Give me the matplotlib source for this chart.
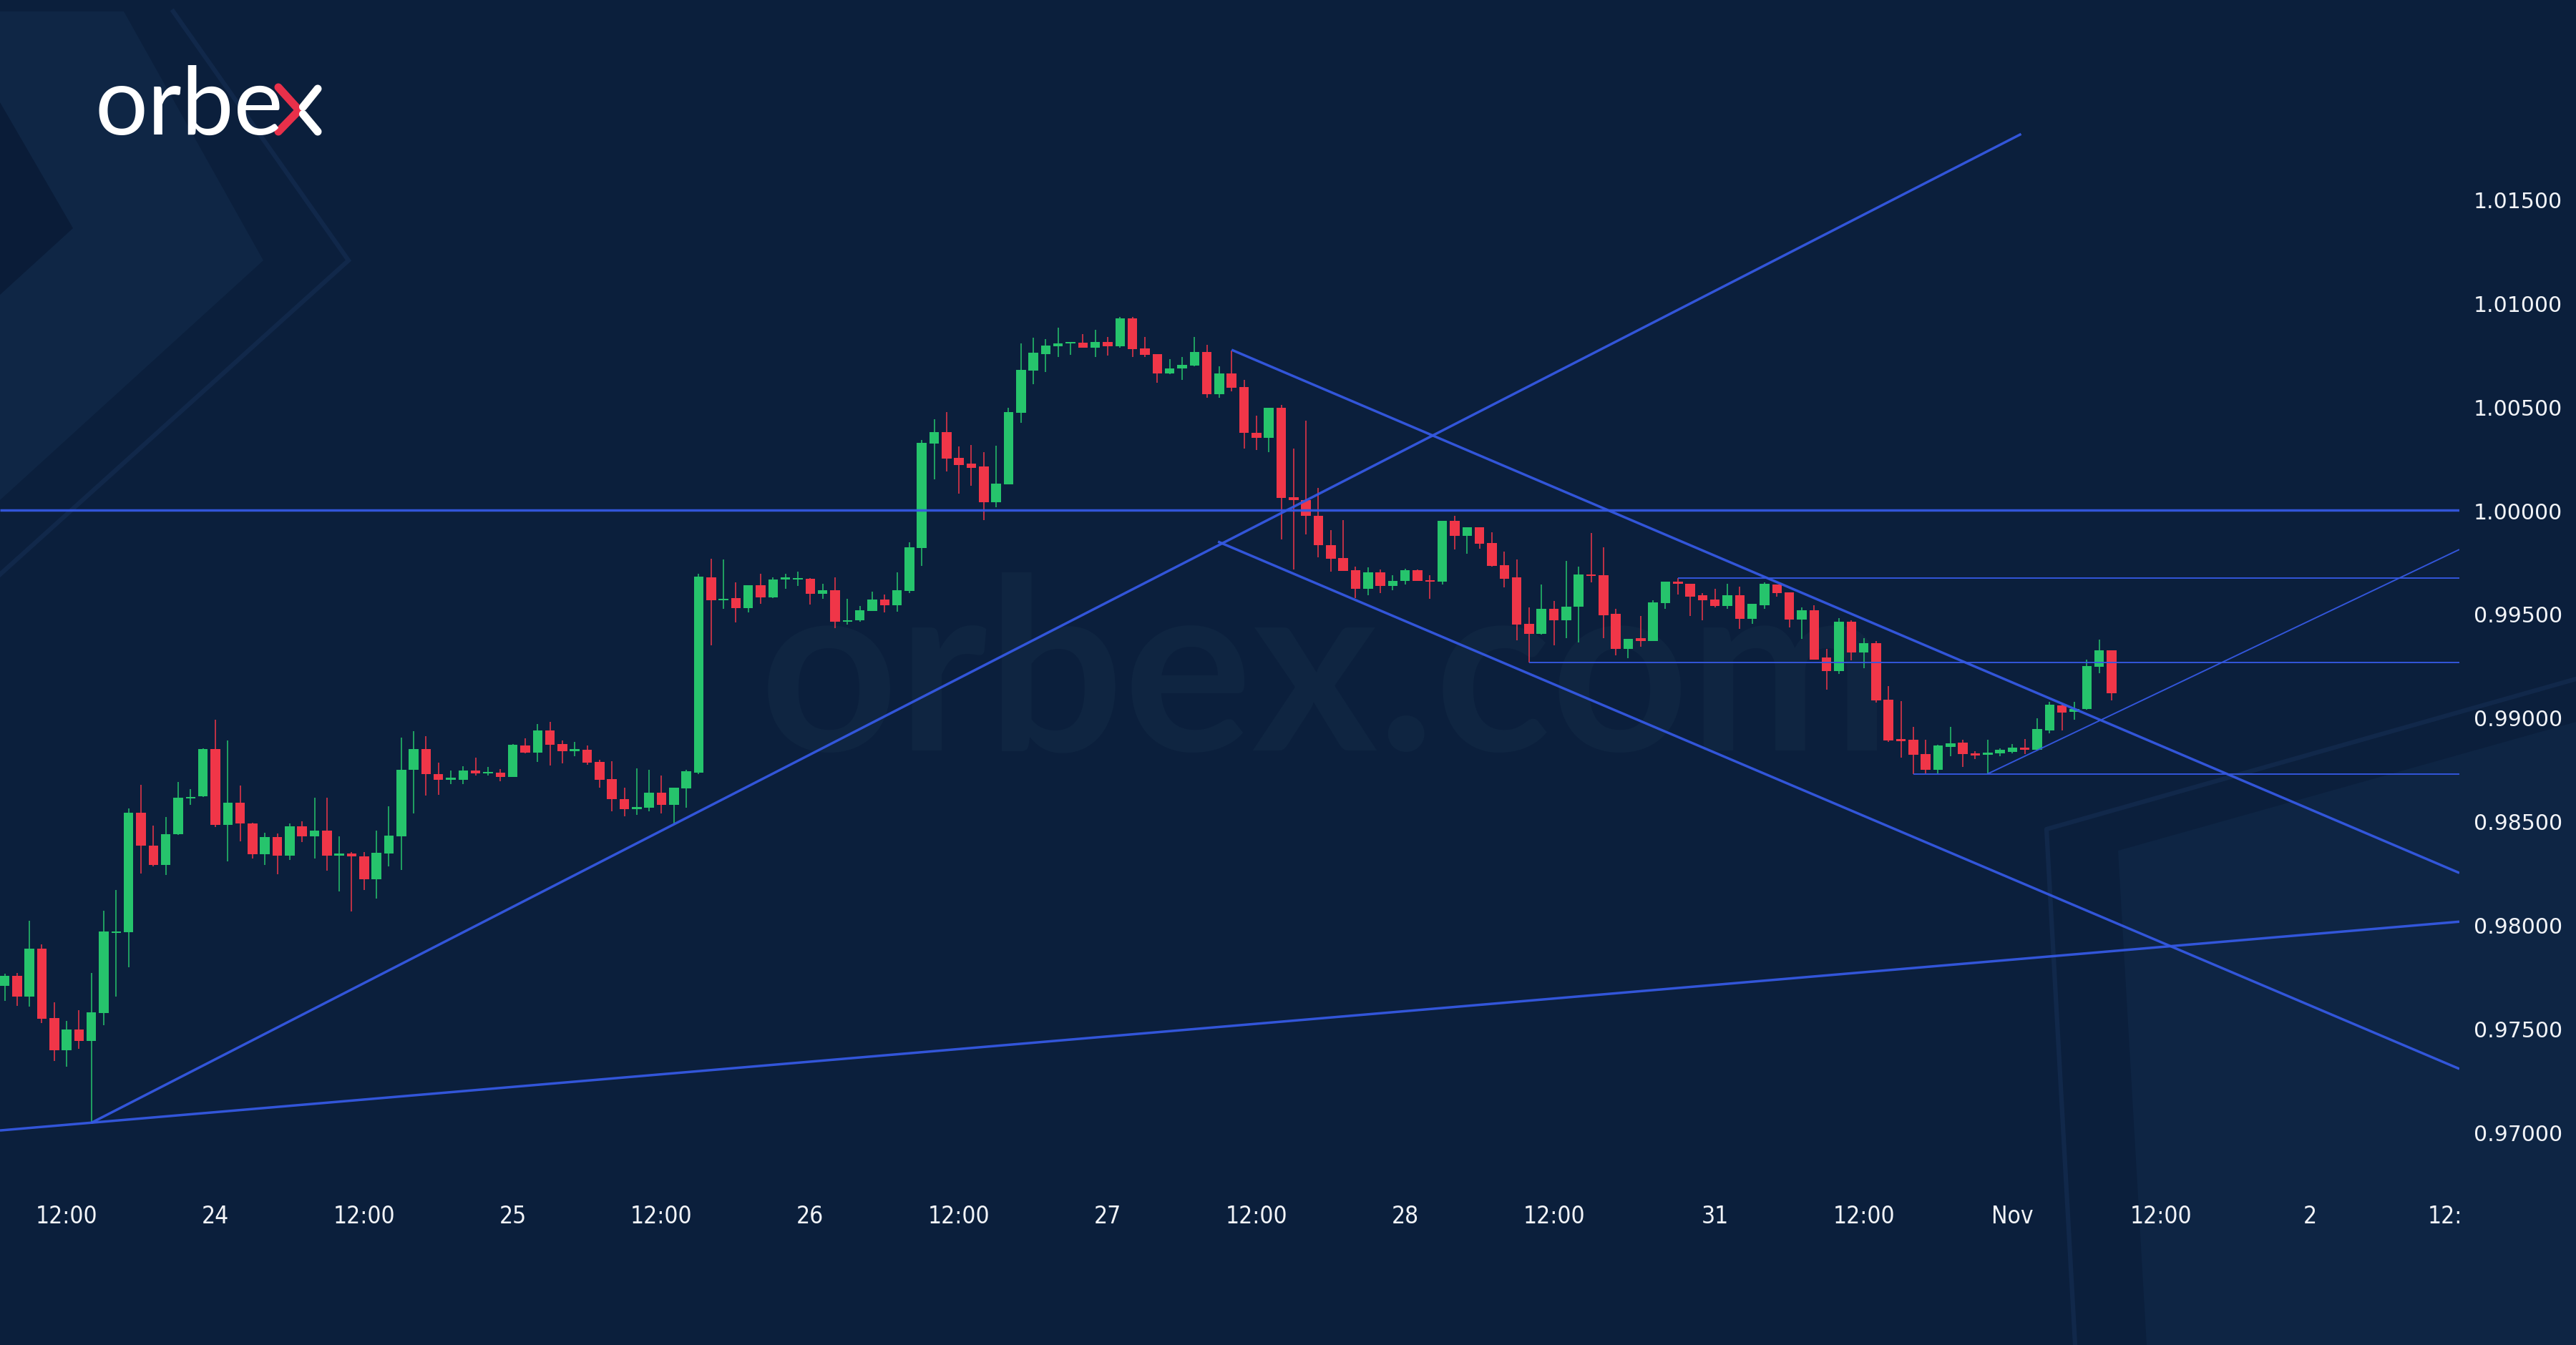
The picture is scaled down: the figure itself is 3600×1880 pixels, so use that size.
"""USDCHF-style hourly candlestick chart with trend lines, recreated in matplotlib."""
import matplotlib
matplotlib.use('Agg')
import matplotlib.pyplot as plt
from matplotlib.patches import Polygon
from matplotlib.transforms import Bbox, TransformedBbox

# hourly candles (bar index 0..170)
OPEN = [0.97706, 0.97752, 0.97653, 0.97886, 0.97551, 0.97395, 0.97494, 0.97441, 0.97573, 0.97960,
        0.97963, 0.98542, 0.98382, 0.98287, 0.98436, 0.98610, 0.98621, 0.98846, 0.98481, 0.98590,
        0.98489, 0.98342, 0.98423, 0.98335, 0.98474, 0.98425, 0.98454, 0.98335, 0.98343, 0.98329,
        0.98220, 0.98344, 0.98427, 0.98749, 0.98846, 0.98728, 0.98700, 0.98700, 0.98745, 0.98729,
        0.98734, 0.98714, 0.98866, 0.98831, 0.98938, 0.98873, 0.98838, 0.98843, 0.98785, 0.98703,
        0.98605, 0.98559, 0.98565, 0.98636, 0.98578, 0.98659, 0.98735, 0.99675, 0.99565, 0.99575,
        0.99528, 0.99638, 0.99579, 0.99667, 0.99664, 0.99669, 0.99596, 0.99614, 0.99462, 0.99467,
        0.99513, 0.99568, 0.99540, 0.99610, 0.99818, 1.00322, 1.00376, 1.00253, 1.00223, 1.00209,
        1.00037, 1.00123, 1.00468, 1.00673, 1.00753, 1.00790, 1.00804, 1.00809, 1.00784, 1.00811,
        1.00790, 1.00926, 1.00779, 1.00752, 1.00658, 1.00684, 1.00698, 1.00761, 1.00560, 1.00660,
        1.00595, 1.00373, 1.00347, 1.00493, 1.00062, 1.00048, 0.99974, 0.99832, 0.99770, 0.99709,
        0.99620, 0.99700, 0.99634, 0.99657, 0.99711, 0.99663, 0.99655, 0.99948, 0.99876, 0.99918,
        0.99841, 0.99735, 0.99674, 0.99450, 0.99402, 0.99525, 0.99467, 0.99534, 0.99690, 0.99686,
        0.99499, 0.99329, 0.99381, 0.99370, 0.99550, 0.99655, 0.99646, 0.99588, 0.99568, 0.99537,
        0.99588, 0.99475, 0.99542, 0.99642, 0.99603, 0.99471, 0.99517, 0.99289, 0.99222, 0.99462,
        0.99315, 0.99358, 0.99085, 0.98892, 0.98892, 0.98823, 0.98746, 0.98858, 0.98877, 0.98827,
        0.98820, 0.98827, 0.98835, 0.98854, 0.98843, 0.98938, 0.99059, 0.99027, 0.99042, 0.99245,
        0.99324]
HIGH = [0.97765, 0.97769, 0.98020, 0.97904, 0.97626, 0.97536, 0.97589, 0.97769, 0.98069, 0.98168,
        0.98561, 0.98676, 0.98478, 0.98518, 0.98689, 0.98656, 0.98850, 0.98989, 0.98888, 0.98672,
        0.98492, 0.98445, 0.98442, 0.98487, 0.98498, 0.98614, 0.98614, 0.98427, 0.98352, 0.98352,
        0.98455, 0.98570, 0.98904, 0.98933, 0.98910, 0.98783, 0.98743, 0.98766, 0.98806, 0.98760,
        0.98751, 0.98873, 0.98898, 0.98969, 0.98979, 0.98889, 0.98881, 0.98864, 0.98795, 0.98789,
        0.98662, 0.98754, 0.98749, 0.98720, 0.98662, 0.98749, 0.99692, 0.99766, 0.99763, 0.99652,
        0.99638, 0.99692, 0.99675, 0.99694, 0.99703, 0.99671, 0.99646, 0.99675, 0.99571, 0.99536,
        0.99606, 0.99594, 0.99700, 0.99844, 1.00338, 1.00439, 1.00472, 1.00307, 1.00315, 1.00281,
        1.00311, 1.00495, 1.00804, 1.00831, 1.00825, 1.00879, 1.00811, 1.00848, 1.00871, 1.00836,
        1.00931, 1.00931, 1.00836, 1.00752, 1.00727, 1.00738, 1.00834, 1.00796, 1.00695, 1.00771,
        1.00629, 1.00457, 1.00493, 1.00508, 1.00296, 1.00431, 1.00106, 0.99904, 0.99951, 0.99729,
        0.99723, 0.99715, 0.99686, 0.99717, 0.99715, 0.99686, 0.99948, 0.99974, 0.99918, 0.99918,
        0.99893, 0.99801, 0.99761, 0.99531, 0.99640, 0.99563, 0.99755, 0.99726, 0.99890, 0.99822,
        0.99525, 0.99379, 0.99491, 0.99565, 0.99654, 0.99671, 0.99646, 0.99600, 0.99620, 0.99646,
        0.99631, 0.99548, 0.99652, 0.99642, 0.99603, 0.99531, 0.99540, 0.99329, 0.99479, 0.99468,
        0.99384, 0.99370, 0.99151, 0.99080, 0.98956, 0.98892, 0.98869, 0.98956, 0.98892, 0.98838,
        0.98892, 0.98850, 0.98873, 0.98896, 0.98996, 0.99076, 0.99065, 0.99076, 0.99278, 0.99375,
        0.99324]
LOW = [0.97633, 0.97610, 0.97606, 0.97527, 0.97342, 0.97316, 0.97402, 0.97045, 0.97514, 0.97653,
       0.97795, 0.98247, 0.98280, 0.98240, 0.98432, 0.98577, 0.98617, 0.98472, 0.98306, 0.98403,
       0.98320, 0.98287, 0.98244, 0.98313, 0.98399, 0.98320, 0.98260, 0.98162, 0.98064, 0.98168,
       0.98128, 0.98283, 0.98266, 0.98536, 0.98622, 0.98628, 0.98680, 0.98680, 0.98720, 0.98720,
       0.98691, 0.98714, 0.98827, 0.98785, 0.98769, 0.98777, 0.98812, 0.98772, 0.98662, 0.98547,
       0.98524, 0.98530, 0.98547, 0.98536, 0.98490, 0.98565, 0.98728, 0.99349, 0.99525, 0.99459,
       0.99505, 0.99548, 0.99577, 0.99620, 0.99634, 0.99545, 0.99571, 0.99430, 0.99448, 0.99462,
       0.99513, 0.99505, 0.99510, 0.99600, 0.99732, 1.00150, 1.00186, 1.00081, 1.00117, 0.99951,
       1.00014, 1.00123, 1.00422, 1.00606, 1.00667, 1.00738, 1.00748, 1.00782, 1.00738, 1.00744,
       1.00782, 1.00738, 1.00738, 1.00614, 1.00656, 1.00629, 1.00695, 1.00541, 1.00543, 1.00572,
       1.00296, 1.00290, 1.00278, 0.99859, 0.99715, 0.99882, 0.99772, 0.99703, 0.99706, 0.99577,
       0.99588, 0.99600, 0.99614, 0.99640, 0.99657, 0.99571, 0.99640, 0.99810, 0.99790, 0.99813,
       0.99729, 0.99629, 0.99372, 0.99266, 0.99399, 0.99349, 0.99383, 0.99360, 0.99651, 0.99383,
       0.99301, 0.99287, 0.99341, 0.99370, 0.99525, 0.99594, 0.99490, 0.99467, 0.99531, 0.99525,
       0.99427, 0.99450, 0.99525, 0.99583, 0.99433, 0.99379, 0.99280, 0.99134, 0.99211, 0.99275,
       0.99237, 0.99071, 0.98881, 0.98806, 0.98726, 0.98731, 0.98731, 0.98812, 0.98762, 0.98800,
       0.98728, 0.98812, 0.98827, 0.98823, 0.98841, 0.98923, 0.98938, 0.98990, 0.99038, 0.99214,
       0.99082]
CLOSE = [0.97752, 0.97653, 0.97886, 0.97547, 0.97395, 0.97494, 0.97441, 0.97576, 0.97966, 0.97968,
         0.98542, 0.98382, 0.98287, 0.98438, 0.98613, 0.98617, 0.98846, 0.98481, 0.98590, 0.98487,
         0.98342, 0.98423, 0.98335, 0.98474, 0.98425, 0.98454, 0.98335, 0.98340, 0.98329, 0.98220,
         0.98348, 0.98429, 0.98749, 0.98846, 0.98726, 0.98700, 0.98702, 0.98745, 0.98729, 0.98734,
         0.98714, 0.98867, 0.98831, 0.98938, 0.98869, 0.98838, 0.98842, 0.98781, 0.98700, 0.98605,
         0.98559, 0.98565, 0.98636, 0.98578, 0.98662, 0.98739, 0.99678, 0.99565, 0.99571, 0.99528,
         0.99638, 0.99579, 0.99667, 0.99670, 0.99669, 0.99596, 0.99614, 0.99462, 0.99467, 0.99517,
         0.99568, 0.99540, 0.99614, 0.99822, 1.00324, 1.00376, 1.00250, 1.00219, 1.00204, 1.00037,
         1.00127, 1.00472, 1.00675, 1.00758, 1.00792, 1.00804, 1.00809, 1.00784, 1.00811, 1.00790,
         1.00926, 1.00775, 1.00750, 1.00658, 1.00684, 1.00700, 1.00761, 1.00560, 1.00660, 1.00591,
         1.00373, 1.00347, 1.00493, 1.00060, 1.00048, 0.99974, 0.99830, 0.99767, 0.99706, 0.99620,
         0.99700, 0.99634, 0.99660, 0.99711, 0.99660, 0.99655, 0.99948, 0.99876, 0.99918, 0.99839,
         0.99732, 0.99669, 0.99448, 0.99402, 0.99525, 0.99467, 0.99534, 0.99689, 0.99681, 0.99494,
         0.99329, 0.99379, 0.99370, 0.99554, 0.99654, 0.99644, 0.99582, 0.99565, 0.99537, 0.99588,
         0.99475, 0.99548, 0.99646, 0.99600, 0.99471, 0.99517, 0.99280, 0.99222, 0.99462, 0.99312,
         0.99358, 0.99082, 0.98889, 0.98887, 0.98820, 0.98746, 0.98864, 0.98875, 0.98823, 0.98818,
         0.98829, 0.98843, 0.98854, 0.98843, 0.98944, 0.99061, 0.99025, 0.99042, 0.99249, 0.99324,
         0.99117]

# drawn lines: (bar, price) -> (bar, price)
TRENDS_THICK = [((-0.375, 0.97008), (198.06, 0.98015)),   # long support
                ((7, 0.97045), (162.7, 1.01814)),         # rising trend
                ((99, 1.00773), (198.06, 0.98250)),       # channel top
                ((97.9, 0.99848), (198.06, 0.97305)),     # channel bottom
                ((-0.375, 1.00000), (198.06, 1.00000))]   # parity
TRENDS_THIN = [((160, 0.98728), (198.06, 0.99810)),
               ((135, 0.99672), (198.06, 0.99672)),
               ((123, 0.99266), (198.06, 0.99266)),
               ((154, 0.98728), (198.06, 0.98728))]

PRICE_TICKS = [0.970, 0.975, 0.980, 0.985, 0.990, 0.995, 1.000, 1.005, 1.010, 1.015]
TIME_TICKS = [5, 17, 29, 41, 53, 65, 77, 89, 101, 113, 125, 138, 150, 162, 174, 186, 198]
TIME_LABELS = ['12:00', '24', '12:00', '25', '12:00', '26', '12:00', '27', '12:00', '28',
               '12:00', '31', '12:00', 'Nov', '12:00', '2', '12:00']

BG = '#0b1f3c'
UP, DOWN = '#26c46c', '#f03648'
LINE = '#3559e3'
W, H = 3600, 1881
AX_R, AX_B = 3437, 1651      # plot area (pixels)

fig = plt.figure(figsize=(W / 100, H / 100), dpi=100)
fig.patch.set_facecolor(BG)

# background decoration layer, pixel coordinates
bg = fig.add_axes([0, 0, 1, 1])
bg.set_xlim(0, W); bg.set_ylim(H, 0); bg.axis('off')
bg.add_patch(Polygon([(0, 17), (173, 17), (368, 365), (0, 700)], closed=True, fc='#0f2645', ec='none'))
bg.add_patch(Polygon([(0, 144), (102, 320), (0, 413)], closed=True, fc='#0a1c38', ec='none'))
bg.plot([242, 487, 0], [17, 365, 804], color='#11284a', lw=4.5, solid_joinstyle='miter')
bg.add_patch(Polygon([(2960, 1190), (3600, 1010), (3600, H), (3000, H)], closed=True, fc='#0e2544', ec='none'))
bg.plot([2900, 2860, 3600], [H, 1160, 950], color='#11284a', lw=4.5)
bg.text(1062, 1048, 'orbex.com', fontsize=242, family='Lato', fontweight='bold',
        color='#0f2541', ha='left', va='baseline')

# logo
bg.text(132, 188, 'orbe', fontsize=94, family='Lato', color='white',
        ha='left', va='baseline')
bg.plot([389, 418, 389], [123, 155, 185], color='#e8304a', lw=8, solid_capstyle='round',
        solid_joinstyle='miter')
bg.plot([444, 423.5], [125, 150.5], color='white', lw=8, solid_capstyle='round')
bg.plot([423.5, 444], [160.5, 185], color='white', lw=8, solid_capstyle='round')

# price chart
ax = fig.add_axes([0, 1 - AX_B / H, AX_R / W, AX_B / H])
ax.patch.set_visible(False)
ax.set_xlim(-0.3753, 198.06)
ax.set_ylim(0.967668, 1.024638)
for s in ax.spines.values():
    s.set_visible(False)

for i, (o, h, l, c) in enumerate(zip(OPEN, HIGH, LOW, CLOSE)):
    col = UP if c >= o else DOWN
    ax.vlines(i, l, h, color=col, lw=1.1, zorder=2)
    ax.bar(i, max(abs(c - o), 0.00008), bottom=min(o, c), width=0.78, color=col, lw=0, zorder=3)

for (x0, y0), (x1, y1) in TRENDS_THICK:
    ax.plot([x0, x1], [y0, y1], color=LINE, lw=2.5, alpha=0.95, zorder=4, solid_capstyle='butt')
for (x0, y0), (x1, y1) in TRENDS_THIN:
    ax.plot([x0, x1], [y0, y1], color=LINE, lw=1.4, alpha=0.95, zorder=4, solid_capstyle='butt')

ax.yaxis.tick_right()
ax.set_yticks(PRICE_TICKS, [f'{v:.5f}' for v in PRICE_TICKS])
ax.tick_params(axis='y', length=0, pad=14.4, labelsize=21.5, labelcolor='#f2f4f8')
ax.set_xticks(TIME_TICKS, TIME_LABELS)
ax.tick_params(axis='x', length=0, pad=36, labelsize=24, labelcolor='#f2f4f8')
clip = TransformedBbox(Bbox.from_extents(0, 0, AX_R / W, 1), fig.transFigure)
for t in ax.get_xticklabels():
    t.set_fontstretch('condensed')
    t.set_va('center')
    t.set_clip_box(clip)
    t.set_clip_on(True)
for t in ax.get_yticklabels():
    t.set_family('DejaVu Sans')

fig.savefig('out.png', dpi=100, facecolor=BG)
